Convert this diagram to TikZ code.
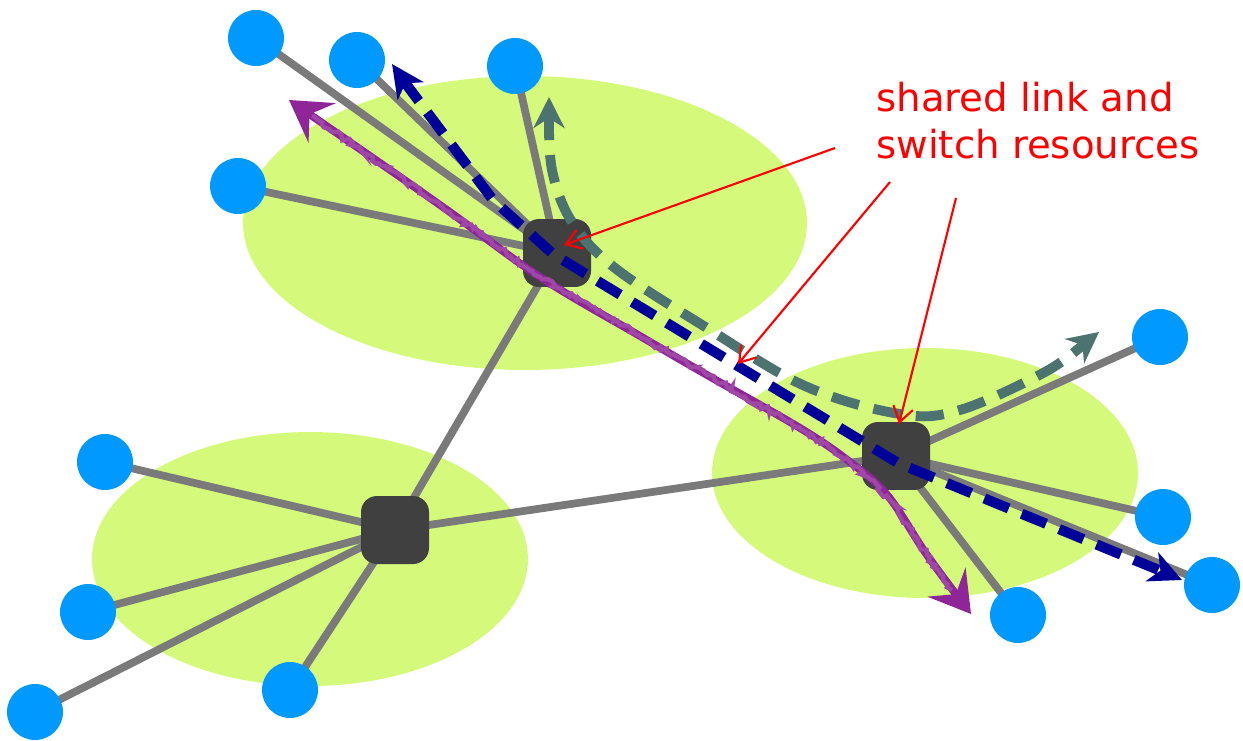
\documentclass[tikz,border=0pt]{standalone}
\usepackage{fontspec}
\setmainfont{DejaVu Sans}
\usetikzlibrary{arrows.meta,decorations.pathmorphing}
\pgfdeclarelayer{ellayer}
\pgfdeclarelayer{linklayer}
\pgfsetlayers{ellayer,linklayer,main}
\definecolor{limefill}{RGB}{213,249,122}
\definecolor{hostblue}{RGB}{0,153,255}
\definecolor{switchgray}{RGB}{64,64,64}
\definecolor{linkgray}{RGB}{122,122,122}
\definecolor{navyflow}{RGB}{0,0,153}
\definecolor{tealflow}{RGB}{77,115,112}
\definecolor{purpleflow}{RGB}{142,38,152}
\begin{document}
\begin{tikzpicture}[x=0.02cm,y=-0.02cm,
  host/.style={circle,fill=hostblue,draw=none,minimum size=1.12cm,inner sep=0pt},
  switchbox/.style={rectangle,rounded corners=0.32cm,fill=switchgray,draw=none,minimum size=1.36cm,inner sep=0pt},
  link/.style={draw=linkgray,line width=4.4pt},
  zone/.style={fill=limefill},
  navyline/.style={draw=navyflow,line width=5.8pt,dash pattern=on 15pt off 8pt},
  navytip/.style={draw=navyflow,line width=5.8pt,-{Stealth[length=0.65cm,width=0.62cm,inset=0.18cm]}},
  tealline/.style={draw=tealflow,line width=5.6pt,dash pattern=on 16pt off 8.5pt},
  tealtip/.style={draw=tealflow,line width=5.6pt,-{Stealth[length=0.62cm,width=0.62cm,inset=0.2cm]}},
  purpleline/.style={draw=purpleflow,line width=4.4pt,
     {Stealth[length=0.8cm,width=0.95cm,inset=0.3cm]}-{Stealth[length=0.8cm,width=0.95cm,inset=0.3cm]}},
  purplerough/.style={draw=purpleflow!85,line width=2.4pt,decorate,
     decoration={random steps,segment length=2pt,amplitude=1.6pt}},
  note/.style={draw=red,line width=1.2pt,-{Straight Barb[length=0.3cm,width=0.4cm]}},
  notetext/.style={text=red,align=left,inner sep=0pt,font=\fontsize{22}{26.6}\selectfont}
]
\useasboundingbox (0,0) rectangle (1243,740);

% switches
\node[switchbox] (s1) at (557,253) {};
\node[switchbox] (s2) at (395,530) {};
\node[switchbox] (s3) at (896,456) {};

% hosts
\node[host] (h1) at (256,38) {};
\node[host] (h2) at (357,60) {};
\node[host] (h3) at (515,66) {};
\node[host] (h4) at (238,186) {};
\node[host] (b1) at (105,462) {};
\node[host] (b2) at (88,612) {};
\node[host] (b3) at (35,712) {};
\node[host] (b4) at (290,690) {};
\node[host] (r1) at (1160,337) {};
\node[host] (r2) at (1163,517) {};
\node[host] (r3) at (1212,585) {};
\node[host] (r4) at (1018,615) {};

\begin{pgfonlayer}{ellayer}
  \fill[zone] (525,223) ellipse [x radius=5.64cm, y radius=2.94cm];
  \fill[zone] (310,559) ellipse [x radius=4.36cm, y radius=2.54cm];
  \fill[zone] (925,473) ellipse [x radius=4.26cm, y radius=2.5cm];
\end{pgfonlayer}

\begin{pgfonlayer}{linklayer}
  \foreach \h in {h1,h2,h3,h4} \draw[link] (s1.center) -- (\h.center);
  \foreach \h in {b1,b2,b3,b4} \draw[link] (s2.center) -- (\h.center);
  \foreach \h in {r1,r2,r3,r4} \draw[link] (s3.center) -- (\h.center);
  \draw[link] (s1.center) -- (s2.center);
  \draw[link] (s2.center) -- (s3.center);
\end{pgfonlayer}

% navy flow
\coordinate (ns) at (392,64);
\coordinate (nsb) at (403,80);
\coordinate (nm0) at (493,200);
\coordinate (nm1) at (553,254);
\coordinate (nm2) at (898,463);
\coordinate (nee) at (1166,573);
\coordinate (ne) at (1182,580);
\draw[navyline] (nsb) -- (nm0) -- (nm1) -- (nm2) -- (nee);
\draw[navytip] (nsb) -- (ns);
\draw[navytip] (nee) -- (ne);

% teal flow
\coordinate (ts) at (549,97);
\coordinate (tsb) at (549,112);
\coordinate (tee) at (1085,343);
\coordinate (te) at (1099,332);
\draw[tealline] plot[smooth,tension=0.6] coordinates {(549,112) (552,170) (572,222) (615,268) (707,328) (805,386) (900,414) (960,410) (1045,372) (1085,343)};
\draw[tealtip] (tsb) -- (ts);
\draw[tealtip] (tee) -- (te);

% purple flow
\draw[purpleline] plot[smooth,tension=0.6] coordinates {(289,100) (440,205) (540,277) (640,336) (707,375) (800,428) (850,462) (888,496) (927,555) (971,614)};
\draw[purplerough] (312,116) -- (440,205) -- (540,277) -- (640,336) -- (707,375) -- (800,428) -- (850,462) -- (870,479) -- (890,500) -- (910,528) -- (927,555) -- (952,590);

% annotation
\node[notetext,anchor=north west] (lbl) at (876,82) {shared link and\\switch resources};
\coordinate (a1) at (835,148);
\coordinate (a2) at (890,182);
\coordinate (a3) at (956,198);
\coordinate (t1) at (564,245);
\coordinate (t2) at (738,364);
\coordinate (t3) at (899,424);
\draw[note] (a1) -- (t1);
\draw[note] (a2) -- (t2);
\draw[note] (a3) -- (t3);
\end{tikzpicture}
\end{document}
